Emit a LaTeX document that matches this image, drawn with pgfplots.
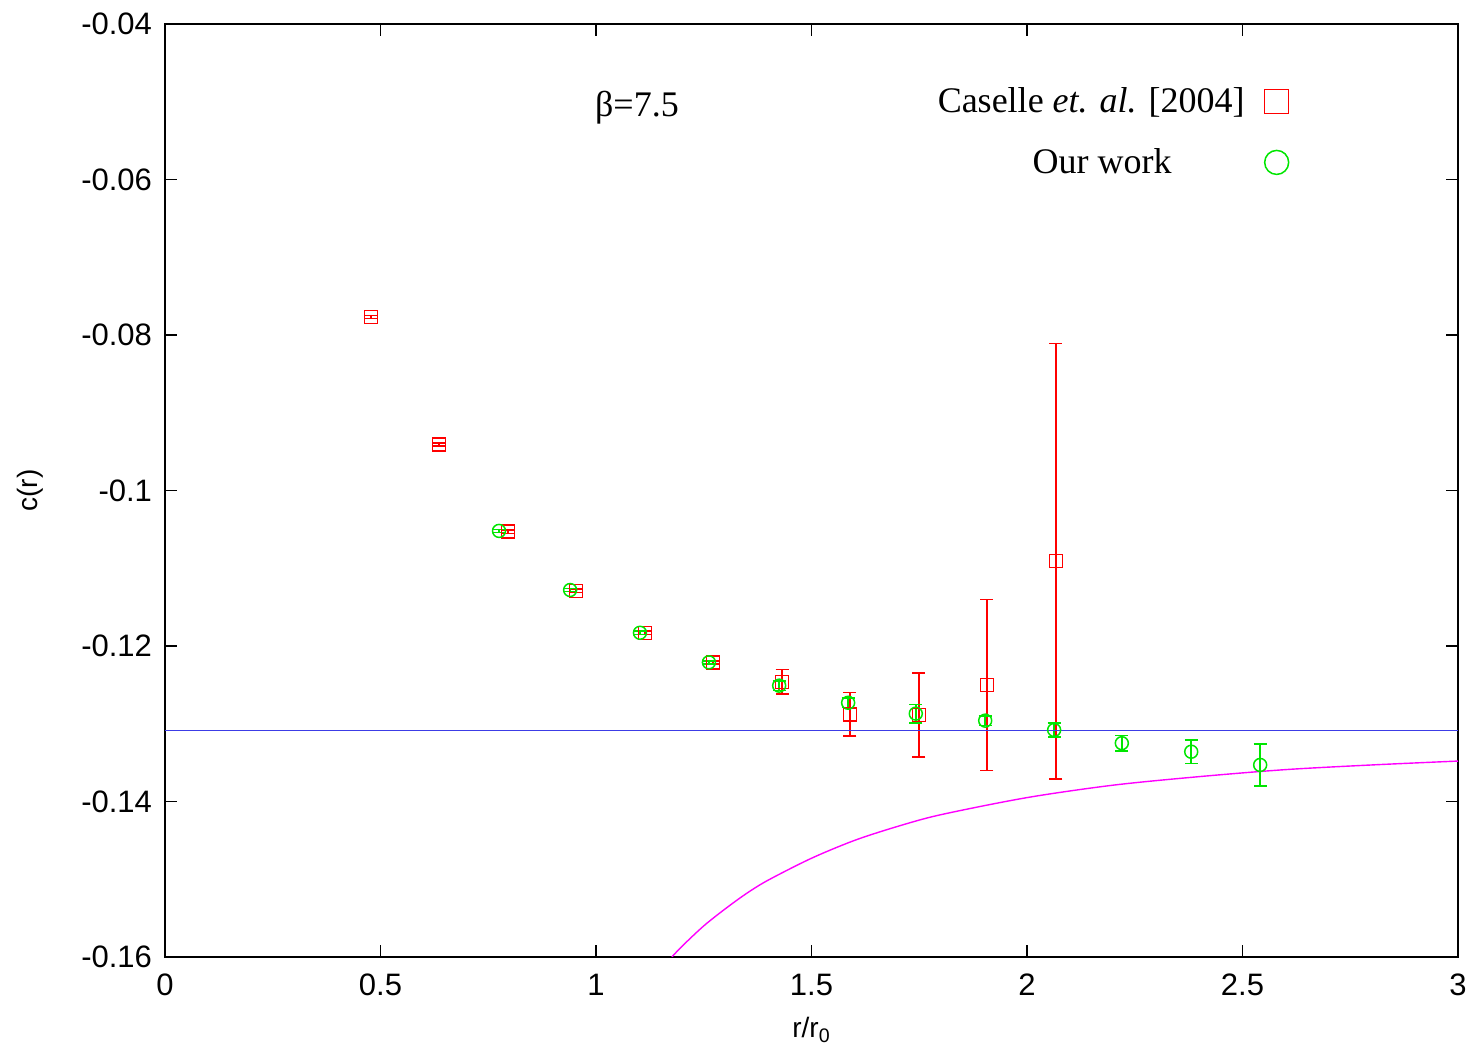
\documentclass[border=0pt]{standalone}
\usepackage{pgfplots}
\pgfplotsset{compat=1.18}
\usepackage{fontspec}
\setmainfont{Liberation Serif}
\setsansfont{Liberation Sans}
\definecolor{gpred}{RGB}{255,0,0}
\definecolor{gpgreen}{RGB}{0,230,0}
\definecolor{gpblue}{RGB}{60,60,230}
\definecolor{gpmag}{RGB}{255,0,255}
\pgfplotstableread{
x y e
0.478 -0.0777 0.0002
0.636 -0.0941 0.0002
0.796 -0.1053 0.0002
0.954 -0.1129 0.0002
1.114 -0.1183 0.0002
1.271 -0.1221 0.0002
1.432 -0.1246 0.0016
1.589 -0.1288 0.0028
1.749 -0.1289 0.0054
1.907 -0.1250 0.0110
2.067 -0.1091 0.0280
}\caselle
\pgfplotstableread{
x y e
0.775 -0.1052 0.0002
0.940 -0.1128 0.0002
1.102 -0.1183 0.0002
1.262 -0.1221 0.0002
1.425 -0.1251 0.0006
1.585 -0.1273 0.0006
1.742 -0.1287 0.0012
1.903 -0.1296 0.0006
2.063 -0.1308 0.0009
2.220 -0.1325 0.0010
2.381 -0.1336 0.0015
2.541 -0.1353 0.0027
}\ourwork
\pgfplotstableread{
x y
1.176 -0.1600
1.200 -0.1586
1.250 -0.1560
1.300 -0.1538
1.350 -0.1518
1.400 -0.1501
1.500 -0.1473
1.600 -0.1450
1.700 -0.1432
1.800 -0.1417
2.000 -0.1395
2.200 -0.1379
2.400 -0.1368
2.600 -0.1359
2.800 -0.1353
3.000 -0.1348
}\curve
\begin{document}
\begin{tikzpicture}
\begin{axis}[
  name=ax,
  scale only axis,
  width=646.5pt, height=466.5pt,
  xmin=0, xmax=3, ymin=-0.16, ymax=-0.04,
  xtick={0,0.5,...,3},
  ytick={-0.16,-0.14,-0.12,-0.1,-0.08,-0.06,-0.04},
  yticklabels={-0.16,-0.14,-0.12,-0.1,-0.08,-0.06,-0.04},
  xticklabels={0,0.5,1,1.5,2,2.5,3},
  tick align=inside,
  major tick length=6pt,
  tick style={black, line width=0.8pt},
  axis line style={line width=1pt},
  ticklabel style={font=\sffamily\fontsize{15.5}{17}\selectfont},
  xticklabel style={yshift=-5pt},
  yticklabel style={xshift=-3pt},
  xlabel={r/r$_{\mathsf{0}}$},
  ylabel={c(r)},
  label style={font=\sffamily\fontsize{14}{16}\selectfont},
  xlabel style={at={(rel axis cs:0.5,0)}, anchor=center, yshift=-36.5pt},
  ylabel style={at={(rel axis cs:0,0.5)}, anchor=center, yshift=67.5pt},
  legend style={draw=none, fill=none, at={(rel axis cs:0.874,0.941)}, anchor=north east,
    font=\fontsize{18}{20}\selectfont, row sep=12.5pt, column sep=8pt},
  legend plot pos=right,
  legend cell align=right,
  clip=true,
]
\addlegendimage{only marks, mark=square, mark size=6pt, color=gpred, mark options={draw=gpred}, line width=0.75pt}
\addlegendentry{Caselle \textit{et. al.} [2004]}
\addlegendimage{only marks, mark=o, mark size=6pt, color=gpgreen, mark options={draw=gpgreen}, line width=0.75pt}
\addlegendentry{Our work\hspace*{36.5pt}}
\addplot[forget plot, only marks, mark=square, mark size=3.25pt, color=gpred, line width=0.75pt,
  error bars/.cd, y dir=both, y explicit, error mark options={mark size=3.25pt, rotate=90, line width=0.75pt, gpred},
  error bar style={line width=0.75pt, gpred}]
  table[x=x, y=y, y error=e] {\caselle};
\addplot[forget plot, only marks, mark=o, mark size=3.25pt, color=gpgreen, line width=0.75pt,
  error bars/.cd, y dir=both, y explicit, error mark options={mark size=3.25pt, rotate=90, line width=0.75pt, gpgreen},
  error bar style={line width=0.75pt, gpgreen}]
  table[x=x, y=y, y error=e] {\ourwork};
\addplot[forget plot, gpblue, line width=0.6pt] coordinates {(0,-0.1309) (3,-0.1309)};
\addplot[forget plot, gpmag, line width=0.7pt, smooth] table[x=x, y=y] {\curve};
\node[font=\fontsize{18}{20}\selectfont] at (axis cs:1.095,-0.0507) {β=7.5};
\end{axis}
\pgfresetboundingbox
\path ([shift={(-82.5pt,-45.5pt)}]ax.south west) rectangle ([shift={(8pt,12pt)}]ax.north east);
\end{tikzpicture}
\end{document}
